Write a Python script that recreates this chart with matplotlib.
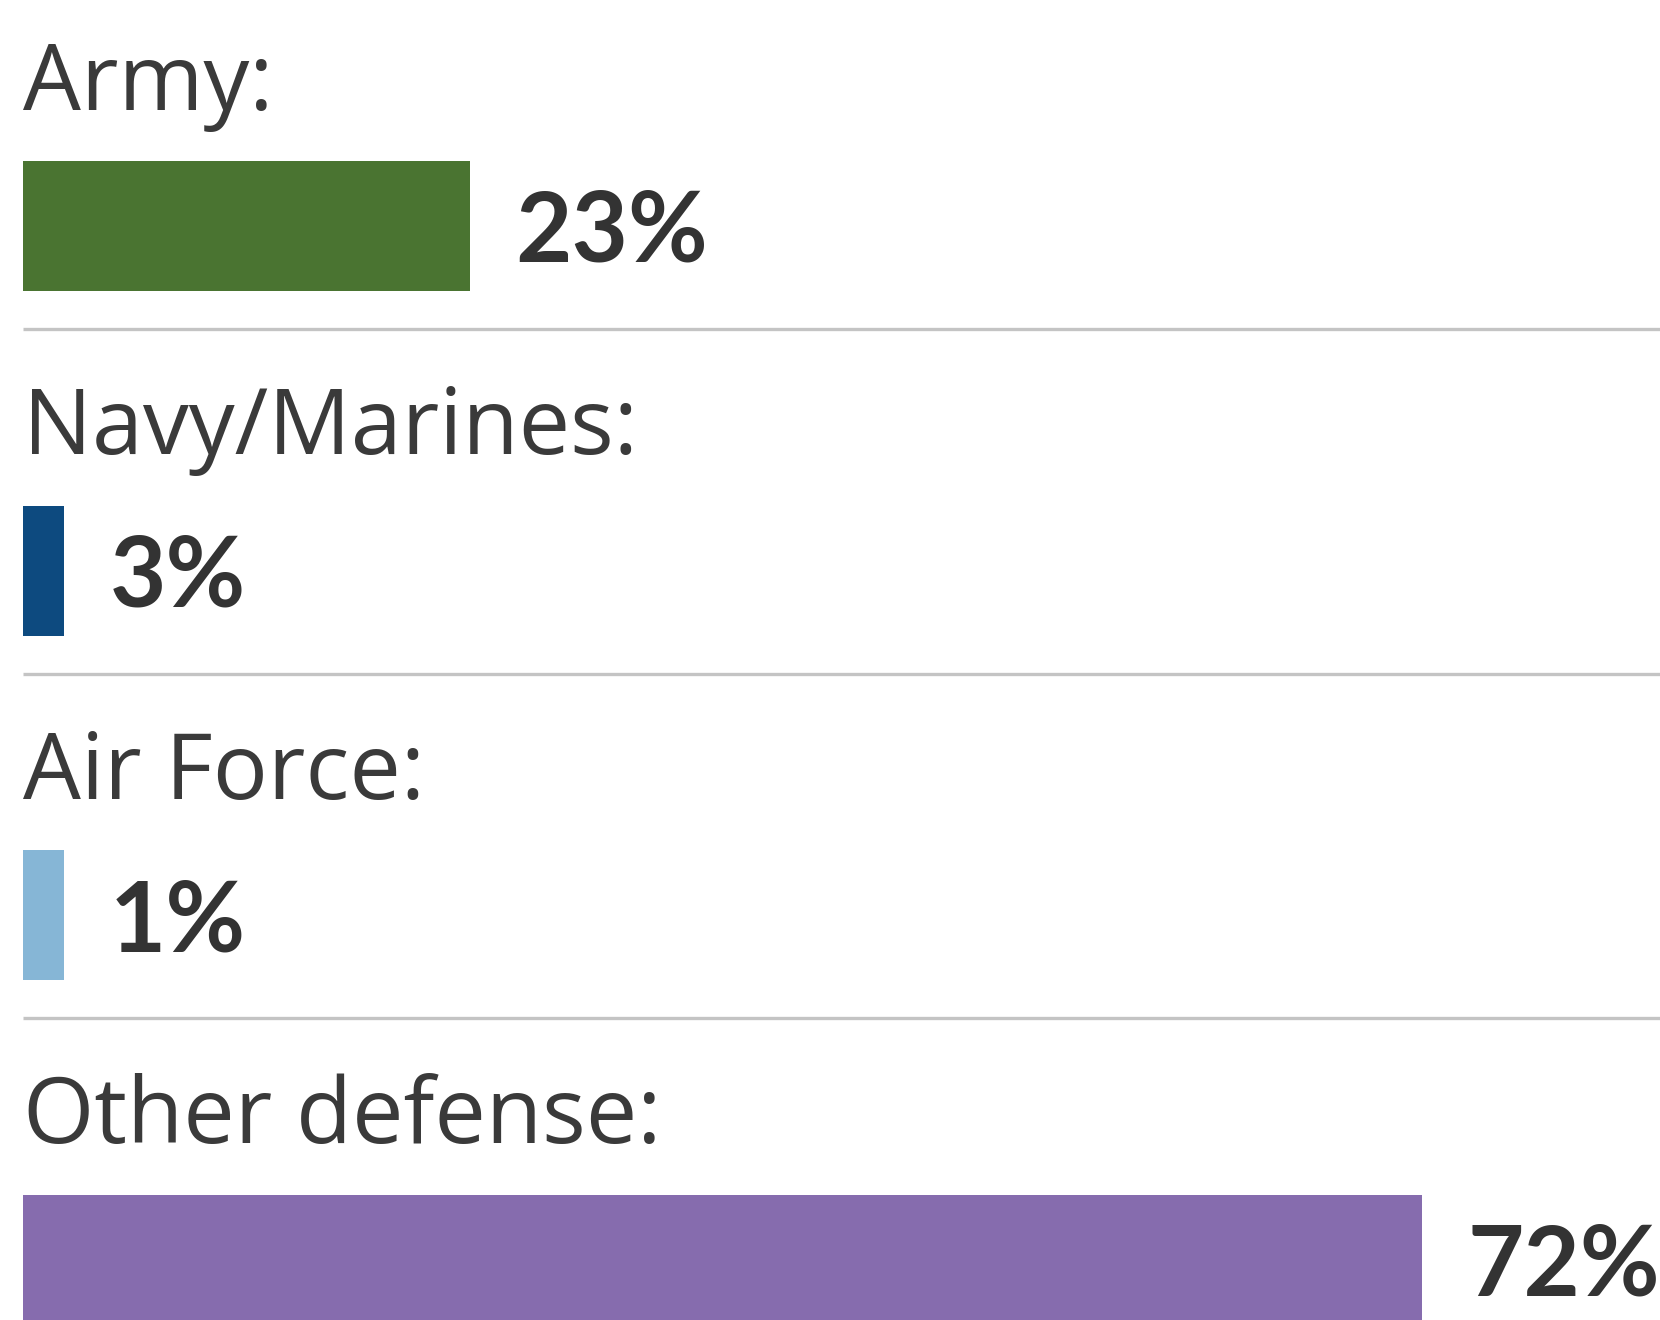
import matplotlib.pyplot as plt

# shares of spending by branch
labels = ["Army:", "Navy/Marines:", "Air Force:", "Other defense:"]
values = [23, 3, 1, 72]
value_text = ["23%", "3%", "1%", "72%"]
colors = ["#4a7431", "#0d4a7f", "#86b6d6", "#866cae"]

W, H = 1660, 1320
fig = plt.figure(figsize=(W / 100, H / 100), dpi=100)
ax = fig.add_axes([0, 0, 1, 1])

px_per_pct = 19.43          # horizontal scale: pixels per percent
left = 23                   # left margin in pixels
ax.set_xlim(-left / px_per_pct, (W - left) / px_per_pct)
ax.set_ylim(H, 0)           # y in pixels, top down
ax.axis("off")

stub_w = 2.1                # small shares are drawn as a fixed stub
row_gap = 344.5
bar_h = 130

for i, (lab, v, txt, c) in enumerate(zip(labels, values, value_text, colors)):
    top = 161 + i * row_gap
    w = v if v >= 5 else stub_w
    ax.barh(top + bar_h / 2, w, height=bar_h, left=0, color=c, edgecolor="none")
    ax.text(0, top - 51, lab, fontsize=66, family="Open Sans",
            color="#3a3a3a", va="baseline", ha="left")
    ax.text(w + 2.35, top + 101, txt, fontsize=70, family="Lato",
            fontweight="bold", color="#333333", va="baseline", ha="left")
    if i < len(labels) - 1:
        ax.plot([0, 200], [top + 168, top + 168], color="#c4c4c4", lw=2.4,
                solid_capstyle="butt")

fig.savefig("out.png", dpi=100)
